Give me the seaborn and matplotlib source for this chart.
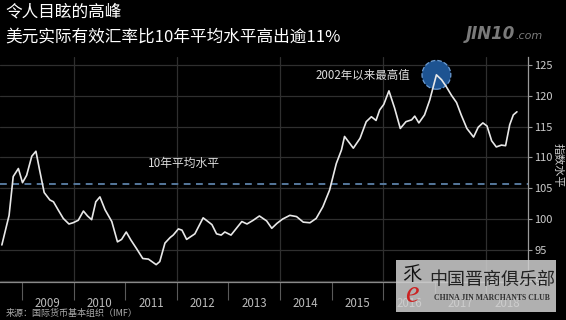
import matplotlib
matplotlib.use("Agg")
import matplotlib.pyplot as plt
import pandas as pd
import seaborn as sns
from matplotlib.patches import Rectangle
from matplotlib.ticker import FixedLocator

# ---- data ----
dates = [2008.61, 2008.75, 2008.83, 2008.93, 2009.01, 2009.09, 2009.19, 2009.27, 2009.34, 2009.43,
         2009.54, 2009.61, 2009.70, 2009.80, 2009.91, 2009.99, 2010.09, 2010.19, 2010.27, 2010.35,
         2010.43, 2010.51, 2010.61, 2010.74, 2010.85, 2010.93, 2011.02, 2011.11, 2011.22, 2011.34,
         2011.45, 2011.60, 2011.67, 2011.77, 2011.87, 2011.93, 2012.03, 2012.10, 2012.19, 2012.35,
         2012.51, 2012.68, 2012.77, 2012.86, 2012.93, 2013.05, 2013.26, 2013.36, 2013.48, 2013.60,
         2013.74, 2013.84, 2013.94, 2014.05, 2014.19, 2014.32, 2014.45, 2014.58, 2014.70, 2014.83,
         2014.96, 2015.09, 2015.19, 2015.25, 2015.42, 2015.55, 2015.67, 2015.77, 2015.86, 2015.93,
         2016.01, 2016.11, 2016.22, 2016.33, 2016.44, 2016.55, 2016.61, 2016.69, 2016.80, 2016.90,
         2017.03, 2017.13, 2017.22, 2017.32, 2017.42, 2017.51, 2017.62, 2017.75, 2017.84, 2017.93,
         2018.01, 2018.10, 2018.19, 2018.29, 2018.37, 2018.45, 2018.52, 2018.59]
index_level = [95.8, 100.6, 106.9, 108.2, 105.9, 107.1, 110.2, 111.0, 108.0, 104.3,
               103.1, 102.8, 101.5, 100.1, 99.2, 99.4, 99.8, 101.3, 100.5, 99.9,
               102.8, 103.6, 101.5, 99.6, 96.3, 96.7, 97.9, 96.6, 95.2, 93.6,
               93.5, 92.6, 93.1, 96.1, 97.0, 97.4, 98.4, 98.2, 96.7, 97.6,
               100.2, 99.1, 97.6, 97.4, 97.9, 97.4, 99.6, 99.2, 99.8, 100.5,
               99.7, 98.5, 99.3, 100.0, 100.6, 100.4, 99.5, 99.4, 100.1, 102.0,
               104.7, 109.0, 111.2, 113.4, 111.5, 113.1, 115.8, 116.6, 116.0, 117.7,
               118.6, 120.8, 118.0, 114.7, 115.8, 116.1, 116.7, 115.6, 116.9, 119.3,
               123.4, 122.6, 121.5, 120.1, 118.9, 116.9, 114.7, 113.3, 114.9, 115.6,
               115.1, 112.7, 111.7, 112.0, 111.9, 115.3, 116.9, 117.4]
avg_10y = 105.7
year_labels = [2009, 2010, 2011, 2012, 2013, 2014, 2015, 2016, 2017, 2018]
y_ticks = [90, 95, 100, 105, 110, 115, 120, 125]
title = "令人目眩的高峰"
subtitle = "美元实际有效汇率比10年平均水平高出逾11%"
source = "来源：国际货币基本组织（IMF）"
avg_label = "10年平均水平"
peak_label = "2002年以来最高值"
y_label = "指数水平"

# ---- style ----
sns.set_theme(style="dark", rc={
    "axes.facecolor": "black", "figure.facecolor": "black",
    "axes.edgecolor": "#888888", "text.color": "white",
})
plt.rcParams['font.family'] = ['Noto Sans CJK SC', 'DejaVu Sans']

fig = plt.figure(figsize=(5.66, 3.2), dpi=100, facecolor="black")
ax = fig.add_axes([0.0, 0.119, 0.933, 0.703])
ax.set_facecolor("black")

df = pd.DataFrame({"date": dates, "value": index_level})
sns.lineplot(data=df, x="date", y="value", ax=ax, color="#e8e8e8", linewidth=1.2, zorder=4)

x_min, x_max = 2008.574, 2018.806
ax.set_xlim(x_min, x_max)
ax.set_ylim(89.8, 126.3)
ax.set_xlabel("")
ax.set_ylabel("")

# grid
ax.set_yticks(y_ticks)
ax.set_yticklabels([str(v) for v in y_ticks])
ax.grid(False)
for v in y_ticks:
    ax.axhline(v, color="#2f2f2f", lw=0.9, zorder=1)
for yr in year_labels[1::2]:
    ax.axvline(yr, color="#2f2f2f", lw=0.9, zorder=1)

# 10-year average
ax.axhline(avg_10y, color="#56789c", lw=1.4, ls=(0, (3.5, 2.8)), zorder=2)
ax.annotate(avg_label, xy=(2012.14, avg_10y), xytext=(0, 10), textcoords="offset points",
            ha="center", va="bottom", fontsize=8.5, color="#dddddd")

# peak marker
i_peak = max(range(len(index_level)), key=lambda i: index_level[i])
ax.scatter([dates[i_peak]], [index_level[i_peak]], s=430, color="#1d5391",
           edgecolors="#6b9bd2", linewidths=0.9, linestyles="--", zorder=3)
ax.annotate(peak_label, xy=(dates[i_peak], index_level[i_peak]), xytext=(-19, 0),
            textcoords="offset points", ha="right", va="center", fontsize=8.3, color="#dddddd")

# axes / ticks
for s in ["left", "top"]:
    ax.spines[s].set_visible(False)
ax.spines["right"].set_color("#9a9a9a")
ax.spines["right"].set_linewidth(0.9)
ax.spines["bottom"].set_color("#8a8a8a")
ax.spines["bottom"].set_linewidth(0.9)

ax.yaxis.tick_right()
ax.tick_params(axis="y", which="major", right=True, left=False, direction="out", length=3,
               width=0.8, color="#9a9a9a", pad=1.5, labelsize=8, labelcolor="#cccccc")

ax.set_xticks(year_labels)
ax.set_xticklabels([""] * len(year_labels))
ax.tick_params(axis="x", which="major", bottom=True, direction="out", length=13, width=0.8,
               color="#5a5a5a")
label_pos = [(y + min(y + 1, x_max)) / 2 for y in year_labels]
ax.xaxis.set_minor_locator(FixedLocator(label_pos))
ax.set_xticklabels([str(y) for y in year_labels], minor=True)
ax.tick_params(axis="x", which="minor", length=0, pad=10.5, labelsize=8.3, labelcolor="#bbbbbb")

# texts
fig.text(5 / 566, 1 - 12 / 320, title, fontsize=12, color="white", ha="left", va="center")
fig.text(5 / 566, 1 - 37 / 320, subtitle, fontsize=12, color="white", ha="left", va="center")
fig.text(6 / 566, 1 - 313 / 320, source, fontsize=6.5, color="#aaaaaa", ha="left", va="center")
fig.text(558 / 566, 1 - 165 / 320, y_label, fontsize=8, color="#cccccc", rotation=270,
         ha="center", va="center")

# JIN10 logo
fig.text(466 / 566, 1 - 34 / 320, "JIN10", fontsize=12, color="#7a7a7a", fontstyle="italic",
         fontweight="bold", ha="left", va="center", family="DejaVu Sans")
fig.text(515 / 566, 1 - 36 / 320, ".com", fontsize=8, color="#7a7a7a", fontstyle="italic",
         ha="left", va="center", family="DejaVu Sans")

# watermark box
fig.patches.append(Rectangle((396 / 566, 1 - 312 / 320), 160 / 566, 52 / 320,
                             transform=fig.transFigure, facecolor="#d0d0d0", alpha=0.85,
                             edgecolor="none", zorder=5))
fig.text(492 / 566, 1 - 280 / 320, "中国晋商俱乐部", fontsize=13, color="#222222",
         ha="center", va="center", zorder=6)
fig.text(492 / 566, 1 - 298 / 320, "CHINA JIN MARCHANTS CLUB", fontsize=5.6, color="#333333",
         ha="center", va="center", fontweight="bold", family="Liberation Serif", zorder=6)
fig.text(412 / 566, 1 - 294 / 320, "e", fontsize=22, color="#cc2222", fontstyle="italic",
         ha="center", va="center", family="Liberation Serif", zorder=6)
fig.text(412 / 566, 1 - 275 / 320, "乑", fontsize=14, color="#111111",
         ha="center", va="center", zorder=6)

fig.savefig("out.png", dpi=100, facecolor="black")
